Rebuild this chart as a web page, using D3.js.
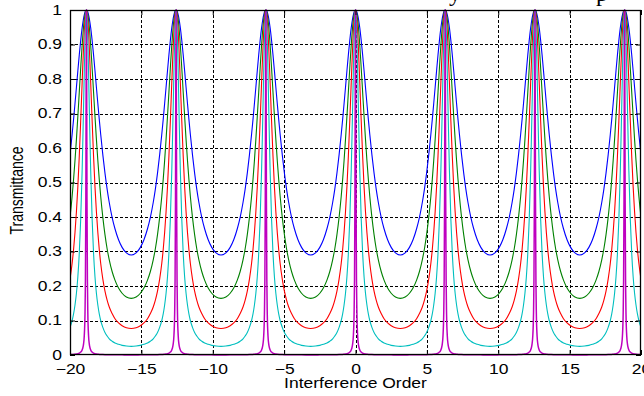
<!DOCTYPE html>
<html>
<head>
<meta charset="utf-8">
<script src="https://cdn.jsdelivr.net/npm/d3@7"></script>
<style>
  body { margin: 0; background: #fff; }
  svg { display: block; font-family: "Liberation Sans", Arial, sans-serif; }
</style>
</head>
<body>
<script>
// peak centres (interference order)
const peakOrders = [-18.85, -12.57, -6.28, 0, 6.28, 12.57, 18.85];

// distance from a peak at which each curve was read (same on both sides)
const peakOffsets = [0, 0.02, 0.04, 0.07, 0.1, 0.15, 0.2, 0.25, 0.3, 0.4, 0.5, 0.6, 0.7,
  0.8, 0.9, 1.0, 1.15, 1.3, 1.45, 1.6, 1.8, 2.0, 2.25, 2.5, 2.8, 3.14];

// transmittance read at those offsets, one list per curve
const blueT = [1, 1, 0.999, 0.997, 0.994, 0.986, 0.976, 0.963, 0.948, 0.912, 0.87, 0.824, 0.776,
  0.729, 0.683, 0.64, 0.58, 0.527, 0.481, 0.442, 0.399, 0.366, 0.334, 0.312, 0.296, 0.29];
const greenT = [1, 0.999, 0.998, 0.994, 0.987, 0.972, 0.952, 0.927, 0.898, 0.832, 0.762, 0.692, 0.625,
  0.564, 0.509, 0.46, 0.399, 0.349, 0.308, 0.276, 0.242, 0.217, 0.194, 0.179, 0.168, 0.164];
const redT = [1, 0.999, 0.995, 0.986, 0.971, 0.937, 0.893, 0.843, 0.789, 0.679, 0.577, 0.488, 0.415,
  0.355, 0.306, 0.266, 0.22, 0.185, 0.159, 0.139, 0.12, 0.105, 0.093, 0.085, 0.079, 0.077];
const cyanT = [1, 0.996, 0.985, 0.954, 0.911, 0.82, 0.72, 0.623, 0.534, 0.394, 0.295, 0.227, 0.179,
  0.145, 0.119, 0.1, 0.08, 0.065, 0.055, 0.047, 0.04, 0.035, 0.031, 0.028, 0.026, 0.025];
const magentaT = [1, 0.77, 0.45, 0.214, 0.118, 0.056, 0.032, 0.021, 0.0147, 0.0084, 0.0054, 0.0038, 0.0028,
  0.0022, 0.0018, 0.0014, 0.0011, 0.0009, 0.0008, 0.0006, 0.0005, 0.0005, 0.0004, 0.0004, 0.0003, 0.0003];

const seriesColors = ["#0000ff", "#008000", "#ff0000", "#00bfbf", "#bf00bf"];

const xTicks = [-20, -15, -10, -5, 0, 5, 10, 15, 20];
const yTicks = [0, 0.1, 0.2, 0.3, 0.4, 0.5, 0.6, 0.7, 0.8, 0.9, 1];

const xLabel = "Interference Order";
const yLabel = "Transmittance";
// only the descenders of the figure title show above the window edge
const titleGlyphs = [{ ch: "y", at: 449 }, { ch: "p", at: 596 }];

const WIDTH = 644;
const HEIGHT = 396;
const MARGINS = { left: 70, top: 10, right: 3, bottom: 41 };
const TEXT_STRETCH = 1.25; // the figure text is wider than it is tall

const svg = d3.select("body").append("svg")
  .attr("width", WIDTH)
  .attr("height", HEIGHT);

const x = d3.scaleLinear()
  .domain([-20, 20])
  .range([MARGINS.left, WIDTH - MARGINS.right]);

const y = d3.scaleLinear()
  .domain([0, 1])
  .range([HEIGHT - MARGINS.bottom, MARGINS.top]);

const [x0, x1] = x.range();
const [yBot, yTop] = y.range();

function stretch(sel) {
  sel.attr("transform", function () {
    const tx = +this.getAttribute("x") || 0;
    return `translate(${tx},0) scale(${TEXT_STRETCH},1) translate(${-tx},0)`;
  });
}

// grid
const grid = svg.append("g")
  .attr("stroke", "#000")
  .attr("stroke-width", 1)
  .attr("stroke-dasharray", "3,2")
  .attr("shape-rendering", "crispEdges");

grid.selectAll(".gx")
  .data(xTicks.slice(1, -1))
  .join("line")
  .attr("x1", (d) => Math.round(x(d)) + 0.5)
  .attr("x2", (d) => Math.round(x(d)) + 0.5)
  .attr("y1", yTop)
  .attr("y2", yBot);

grid.selectAll(".gy")
  .data(yTicks.slice(1, -1))
  .join("line")
  .attr("x1", x0)
  .attr("x2", x1)
  .attr("y1", (d) => Math.round(y(d)) + 0.5)
  .attr("y2", (d) => Math.round(y(d)) + 0.5);

// curves
svg.append("clipPath")
  .attr("id", "plot-clip")
  .append("rect")
  .attr("x", x0)
  .attr("y", yTop - 2)
  .attr("width", x1 - x0)
  .attr("height", yBot - yTop + 4);

function curvePoints(values) {
  const pts = [];
  peakOrders.forEach((p) => {
    peakOffsets.forEach((o, i) => {
      pts.push([p - o, values[i]]);
      if (o > 0) pts.push([p + o, values[i]]);
    });
  });
  pts.sort((a, b) => a[0] - b[0]);
  return pts.filter((d, i) => i === 0 || d[0] - pts[i - 1][0] > 1e-6);
}

const line = d3.line()
  .x((d) => x(d[0]))
  .y((d) => y(d[1]))
  .curve(d3.curveMonotoneX);

const series = [blueT, greenT, redT, cyanT, magentaT];

svg.append("g")
  .attr("clip-path", "url(#plot-clip)")
  .selectAll("path")
  .data(series)
  .join("path")
  .attr("fill", "none")
  .attr("stroke", (d, i) => seriesColors[i])
  .attr("stroke-width", (d, i) => (i === 4 ? 1.5 : 1.1))
  .attr("d", (d) => line(curvePoints(d)));

// axes (ticks point inward, box on all sides)
const xAxis = svg.append("g")
  .attr("transform", `translate(0,${yBot})`)
  .call(d3.axisBottom(x).tickValues(xTicks).tickSizeInner(-5).tickSizeOuter(0).tickPadding(9));

const yAxis = svg.append("g")
  .attr("transform", `translate(${x0},0)`)
  .call(d3.axisLeft(y).tickValues(yTicks).tickSizeInner(-5).tickSizeOuter(0).tickPadding(8)
    .tickFormat((d) => String(d)));

svg.append("g")
  .attr("transform", `translate(0,${yTop})`)
  .call(d3.axisTop(x).tickValues(xTicks).tickSizeInner(-5).tickSizeOuter(0).tickFormat(""));

svg.append("g")
  .attr("transform", `translate(${x1},0)`)
  .call(d3.axisRight(y).tickValues(yTicks).tickSizeInner(-5).tickSizeOuter(0).tickFormat(""));

svg.selectAll(".domain").remove();
svg.selectAll(".tick line").attr("stroke", "#000");

[xAxis, yAxis].forEach((g) => {
  g.selectAll("text")
    .attr("font-family", "Liberation Sans, Arial, sans-serif")
    .attr("font-size", 14)
    .attr("fill", "#000")
    .call(stretch);
});

svg.append("rect")
  .attr("x", x0 + 0.5)
  .attr("y", yTop + 0.5)
  .attr("width", x1 - x0 - 1)
  .attr("height", yBot - yTop - 1)
  .attr("fill", "none")
  .attr("stroke", "#000")
  .attr("stroke-width", 1.3);

// axis titles
svg.append("text")
  .attr("x", (x0 + x1) / 2)
  .attr("y", 388)
  .attr("text-anchor", "middle")
  .attr("font-size", 14)
  .text(xLabel)
  .call(stretch);

svg.append("text")
  .attr("transform", `translate(23,${(yTop + yBot) / 2 + 8}) scale(${TEXT_STRETCH},1) rotate(-90)`)
  .attr("text-anchor", "middle")
  .attr("font-size", 14)
  .text(yLabel);

// clipped title remnants
svg.selectAll(".title-glyph")
  .data(titleGlyphs)
  .join("text")
  .attr("class", "title-glyph")
  .attr("x", (d) => d.at)
  .attr("y", 1)
  .attr("font-family", "Liberation Serif, Times New Roman, serif")
  .attr("font-size", 24)
  .attr("fill", "#000")
  .text((d) => d.ch);
</script>
</body>
</html>
